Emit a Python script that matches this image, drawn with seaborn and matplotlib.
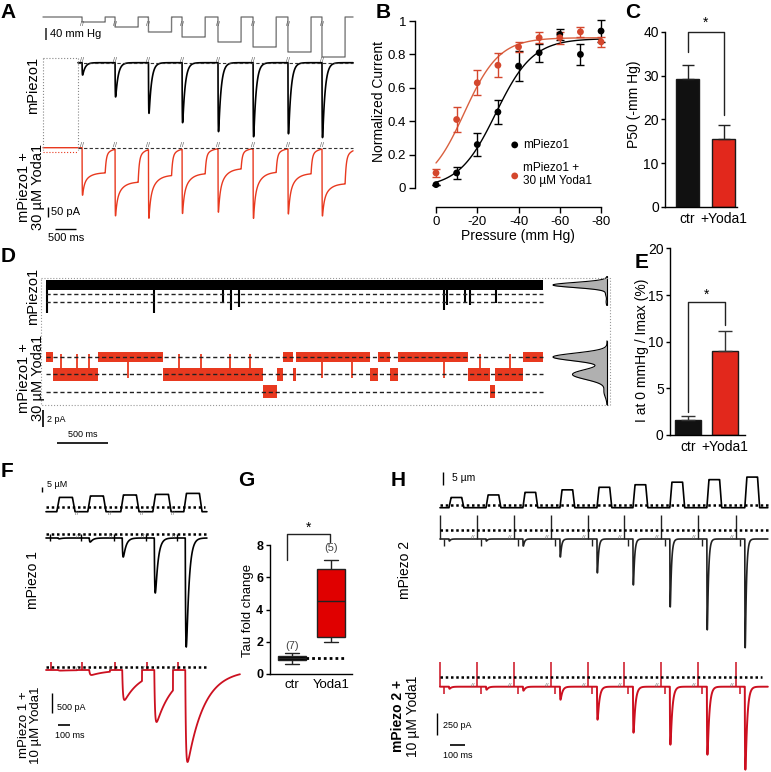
import numpy as np
import pandas as pd
import matplotlib
matplotlib.use("Agg")
import matplotlib.pyplot as plt
from matplotlib.lines import Line2D
import seaborn as sns

sns.set_theme(style="ticks")
plt.rcParams['font.family'] = ['Liberation Sans', 'DejaVu Sans']
plt.rcParams['axes.linewidth'] = 1.0
plt.rcParams['xtick.major.width'] = 1.0
plt.rcParams['ytick.major.width'] = 1.0
plt.rcParams['xtick.major.size'] = 4
plt.rcParams['ytick.major.size'] = 4
plt.rcParams['axes.edgecolor'] = 'black'
plt.rcParams['xtick.color'] = 'black'
plt.rcParams['ytick.color'] = 'black'
plt.rcParams['text.color'] = 'black'
plt.rcParams['path.simplify'] = False

# ======================= DATA =======================
# Panel A : pressure-clamp sweeps
a_step_onset_ms = [930, 1715, 2510, 3310, 4165, 5000, 5830, 6640]
a_step_dur_ms = 550
a_trace_end_ms = 7380
a_pressure_mmHg = [-10, -20, -30, -40, -50, -60, -70, -80]
a_ctr_peak_pA = [58, 161, 238, 282, 324, 348, 334, 352]
a_yoda_peak_pA = [254, 357, 376, 352, 352, 385, 357, 357]
a_yoda_plateau_pA = [117, 160, 128, 120, 97, 113, 120, 168]

# Panel B : pressure-response
b_pressure = [0, -10, -20, -30, -40, -50, -60, -70, -80]
b_ctr_mean = [0.02, 0.09, 0.26, 0.455, 0.73, 0.81, 0.92, 0.80, 0.94]
b_ctr_sem = [0.0, 0.038, 0.068, 0.07, 0.09, 0.055, 0.033, 0.062, 0.064]
b_yoda_mean = [0.09, 0.41, 0.63, 0.735, 0.845, 0.90, 0.90, 0.935, 0.875]
b_yoda_sem = [0.023, 0.075, 0.075, 0.072, 0.03, 0.032, 0.035, 0.03, 0.032]
b_ctr_fit = dict(imax=0.895, p50=29.0, k=9.0)
b_yoda_fit = dict(imax=0.90, p50=13.7, k=8.5)

# Panel C : P50
c_groups = ['ctr', '+Yoda1']
c_p50_mean = [29.3, 15.6]
c_p50_sem = [3.2, 3.2]
c_sig_bracket = [35.5, 40.0, 40.0, 21.0]

# Panel D : single channels (dwell list of red trace)
d_red_dwell_ms = [69, 441, 637, 980, 137, 59, 98, 29, 725, 79, 117, 79, 686, 215, 49, 275, 196]
d_red_state = [0, 1, 0, 1, 2, 1, 0, 1, 0, 1, 0, 1, 0, 1, 2, 1, 0]
d_red_levels_pA = [0.0, -2.05, -4.1]
d_red_flicker_ms = [150, 300, 420, 1300, 1520, 1800, 2000, 800, 2700, 3000, 3900, 4250, 4550]
d_red_flicker_to = [0, 0, 0, 0, 0, 0, 0, 1, 1, 1, 1, 0, 0]
d_black_levels_pA = [0.0, -1.05, -2.0]
d_black_end_ms = 4871
d_black_spike_ms = [10, 1058, 1735, 1813, 1891, 3900, 3930, 4106, 4155, 4410]
d_black_spike_pA = [-3.3, -3.3, -2.0, -2.9, -2.6, -2.9, -2.35, -2.0, -2.35, -2.1]

# Panel E : I at 0 mmHg
e_groups = ['ctr', '+Yoda1']
e_i0_mean = [1.6, 9.0]
e_i0_sem = [0.4, 2.2]
e_sig_bracket = [2.5, 14.3, 14.3, 11.8]

# Panel F : concentration steps
f_seg_start_ms = [0, 258, 533, 800, 1058]
f_black_end_ms = 1341
f_red_end_ms = 1616
f_step_delay_ms = 90
f_step_dur_ms = 130
f_stim_height = [14.3, 15.7, 16.7, 17.3, 18.3]
f_ctr_peak_pA = [20, 100, 475, 1375, 2725]
f_yoda_peak_pA = [15, 125, 750, 1300, 2300]

# Panel G : tau fold change
g_ctr = [0.6, 0.8, 0.95, 1.0, 1.05, 1.15, 1.3]
g_yoda = [2.0, 2.3, 4.55, 6.55, 7.1]

# Panel H : mPiezo2 indentation
h_seg_start_ms = [0, 247, 493, 740, 987, 1227, 1473, 1720, 1973]
h_end_ms = 2187
h_step_delay_ms = 60
h_step_dur_ms = 85
h_stim_um = [4, 5, 6, 7, 8, 9, 10, 11, 12]
h_ctr_peak_pA = [23, 23, 80, 205, 386, 523, 773, 1034, 1238]
h_yoda_peak_pA = [23, 34, 45, 148, 375, 523, 659, 773, 943]

RED_A = '#e8391f'
RED_B = '#d4472d'
RED_BFIT = '#d9603f'
RED_BAR = '#e2281c'
RED_F = '#cc1020'
RED_G = '#e00000'

# ======================= HELPERS =======================
W, H = 771, 772
fig = plt.figure(figsize=(W / 100, H / 100), dpi=100)
fig.patch.set_facecolor('white')


def px_axes(l, t, r, b):
    ax = fig.add_axes([l / W, 1 - b / H, (r - l) / W, (b - t) / H])
    ax.patch.set_alpha(0)
    return ax


def set_map(ax, box, x0px, x_per_px, y0px, y_per_px):
    l, t, r, b = box
    ax.set_xlim((l - x0px) * x_per_px, (r - x0px) * x_per_px)
    ax.set_ylim((y0px - b) * y_per_px, (y0px - t) * y_per_px)
    ax.axis('off')


def ftext(x, y, s, **kw):
    fig.text(x / W, 1 - y / H, s, **kw)


def fline(xs, ys, **kw):
    fig.add_artist(Line2D([x / W for x in xs], [1 - y / H for y in ys],
                          transform=fig.transFigure, **kw))


def trace(ax, t, y, color, lw=1.0):
    sns.lineplot(x=t, y=y, ax=ax, color=color, lw=lw, estimator=None,
                 sort=False, legend=False)


def kern(dt, tr, td):
    d = np.clip(dt, 0, None)
    tp = tr * np.log((tr + td) / tr)
    kmax = (1 - np.exp(-tp / tr)) * np.exp(-tp / td)
    return np.where(dt >= 0, (1 - np.exp(-d / tr)) * np.exp(-d / td) / kmax, 0.0)


def ramp(t, on, off, rr):
    return np.clip((t - on) / rr, 0, 1) - np.clip((t - off) / rr, 0, 1)


def letter(x, y, s):
    ftext(x, y, s, fontsize=15, fontweight='bold', ha='center', va='center')


DOT = (0, (1, 1.1))

# ======================= PANEL A =======================
A_X0, A_MS = 43, 23.8
a_box = (36, 5, 362, 245)
ax_p, ax_k, ax_r = px_axes(*a_box), px_axes(*a_box), px_axes(*a_box)
t = np.arange(0, a_trace_end_ms, 1.0)
press = np.zeros_like(t)
ik = np.zeros_like(t)
ir = np.zeros_like(t)
dur = a_step_dur_ms
for on, p, ak, ay, py in zip(a_step_onset_ms, a_pressure_mmHg, a_ctr_peak_pA,
                             a_yoda_peak_pA, a_yoda_plateau_pA):
    dt = t - on
    inside = (dt >= 0) & (dt < dur)
    after = dt >= dur
    press[inside] = p
    ik -= ak * kern(dt, 5, 60)
    d = np.clip(dt, 0, None)
    shape_in = py + (ay - py) * (0.55 * np.exp(-d / 35) + 0.45 * np.exp(-d / 150))
    i_end = py + (ay - py) * (0.55 * np.exp(-dur / 35) + 0.45 * np.exp(-dur / 150))
    da = np.clip(dt - dur, 0, None)
    shape_after = i_end * (0.7 * np.exp(-da / 25) + 0.3 * np.exp(-da / 150))
    ir -= np.where(inside, (1 - np.exp(-d / 3)) * shape_in, 0) + np.where(after, shape_after, 0)

trace(ax_p, t, press, '#7a7a7a', 1.0)
kmask = t >= 833
trace(ax_k, t[kmask], ik[kmask], 'black', 1.2)
trace(ax_r, t, ir, RED_A, 1.0)
ax_k.hlines(0, 833, a_trace_end_ms, colors='#333333', linestyles=(0, (3, 2)), lw=0.8)
ax_r.hlines(0, 833, a_trace_end_ms, colors='#333333', linestyles=(0, (3, 2)), lw=0.8)
for on in a_step_onset_ms:
    ax_p.text(on, -16, '//', fontsize=5, color='#555555', ha='center', va='center')
    ax_k.text(on, 8, '//', fontsize=5, color='#555555', ha='center', va='center')
    ax_r.text(on, 8, '//', fontsize=5, color='#555555', ha='center', va='center')
# scale bars
ax_p.vlines(71, -46, -22, colors='#333333', lw=1.2)
ax_p.text(167, -34, '40 mm Hg', fontsize=8, va='center', ha='left')
ax_r.vlines(119, -327, -277, colors='black', lw=1.0)
ax_r.text(190, -303, '50 pA', fontsize=8, va='center', ha='left')
ax_r.hlines(-382, 286, 786, colors='black', lw=1.0)
ax_r.text(547, -425, '500 ms', fontsize=8, va='center', ha='center')
set_map(ax_p, a_box, A_X0, A_MS, 17, 2.0)
set_map(ax_k, a_box, A_X0, A_MS, 62.7, 4.7)
set_map(ax_r, a_box, A_X0, A_MS, 147.7, 4.7)
# dotted inset box
fline([43, 78], [58, 58], color='#888888', lw=0.8, ls=':')
fline([78, 78], [58, 150], color='#888888', lw=0.8, ls=':')
fline([43, 43], [58, 150], color='#888888', lw=0.8, ls=':')
fline([43, 78], [152, 152], color=RED_A, lw=0.8, ls=':')
ftext(33, 85, 'mPiezo1', rotation=90, ha='center', va='center', fontsize=10.5)
ftext(31, 187, 'mPiezo1 +\n30 µM Yoda1', rotation=90, ha='center', va='center',
      multialignment='center', fontsize=10.5, linespacing=1.0)
letter(8, 13, 'A')

# ======================= PANEL B =======================
axB = px_axes(415, 12, 612, 207)
p_fine = np.linspace(0, -80, 161)
fit_ctr = b_ctr_fit['imax'] / (1 + np.exp((b_ctr_fit['p50'] + p_fine) / b_ctr_fit['k']))
fit_yoda = b_yoda_fit['imax'] / (1 + np.exp((b_yoda_fit['p50'] + p_fine) / b_yoda_fit['k']))
sns.lineplot(x=p_fine, y=fit_ctr, color='black', lw=1.0, ax=axB, legend=False)
sns.lineplot(x=p_fine, y=fit_yoda, color=RED_BFIT, lw=1.0, ax=axB, legend=False)
axB.errorbar(b_pressure, b_ctr_mean, yerr=b_ctr_sem, fmt='none', ecolor='black',
             elinewidth=1, capsize=3, capthick=1)
axB.errorbar(b_pressure, b_yoda_mean, yerr=b_yoda_sem, fmt='none', ecolor=RED_B,
             elinewidth=1, capsize=3, capthick=1)
sns.scatterplot(x=b_pressure, y=b_ctr_mean, color='black', s=24, edgecolor='none',
                ax=axB, label='mPiezo1', zorder=4)
sns.scatterplot(x=b_pressure, y=b_yoda_mean, color=RED_B, s=24, edgecolor='none',
                ax=axB, label='mPiezo1 +\n30 µM Yoda1', zorder=4)
axB.set_xlim(10.18, -85.3)
axB.set_ylim(-0.114, 1.054)
axB.set_xticks([0, -20, -40, -60, -80])
axB.set_xticklabels(['0', '-20', '-40', '-60', '-80'], fontsize=9.5)
axB.set_yticks([0, 0.2, 0.4, 0.6, 0.8, 1.0])
axB.set_yticklabels(['0', '0.2', '0.4', '0.6', '0.8', '1'], fontsize=9.5)
axB.tick_params(axis='x', pad=2.5)
axB.tick_params(axis='y', pad=2.5)
for s in ['top', 'right']:
    axB.spines[s].set_visible(False)
axB.spines['left'].set_bounds(0, 1)
axB.spines['bottom'].set_bounds(-80, 0)
axB.set_xlabel('')
axB.set_ylabel('')
axB.legend(frameon=False, fontsize=8.5, loc='upper left',
           bbox_to_anchor=((510 - 415) / 197, 1 - (139 - 12) / 195),
           handletextpad=0.3, labelspacing=0.9, borderpad=0, borderaxespad=0,
           handlelength=0.8)
ftext(379, 102, 'Normalized Current', rotation=90, ha='center', va='center', fontsize=10)
ftext(518, 236, 'Pressure (mm Hg)', ha='center', va='center', fontsize=10)
letter(383, 13, 'B')

# ======================= PANEL C =======================
axC = px_axes(665, 20, 737, 207)
sns.barplot(x=c_groups, y=c_p50_mean, hue=c_groups, palette=['#111111', RED_BAR],
            width=0.64, edgecolor='#1a1a1a', linewidth=1, legend=False,
            errorbar=None, saturation=1, ax=axC)
axC.errorbar([0, 1], c_p50_mean, yerr=[[0, 0], c_p50_sem], fmt='none',
             ecolor='#222222', elinewidth=1, capsize=4.5, capthick=1)
axC.plot([0, 0, 1, 1], c_sig_bracket, color='#222222', lw=1)
axC.text(0.5, 42.0, '*', ha='center', va='center', fontsize=10)
axC.set_ylim(0, (207 - 20) / 4.38)
axC.set_xlim(-0.625, 1.375)
axC.set_yticks([0, 10, 20, 30, 40])
axC.tick_params(labelsize=10)
axC.tick_params(axis='y', length=3, pad=1.5)
axC.tick_params(axis='x', length=0)
for s in ['top', 'right']:
    axC.spines[s].set_visible(False)
axC.spines['left'].set_bounds(0, 40)
axC.set_xlabel('')
axC.set_ylabel('')
ftext(634, 104, 'P50 (-mm Hg)', rotation=90, ha='center', va='center', fontsize=10)
letter(633, 13, 'C')

# ======================= PANEL D =======================
D_X0, D_MS, D_U = 46, 9.8, 0.1176
d_box = (38, 265, 560, 455)
axDk, axDr = px_axes(*d_box), px_axes(*d_box)
edges = np.concatenate([[0], np.cumsum(d_red_dwell_ms)])
lev = np.array(d_red_levels_pA)[d_red_state]
hw = np.where(np.array(d_red_state) == 0, 0.62, 0.78)
yy = np.append(lev, lev[-1])
hh = np.append(hw, hw[-1])
axDr.fill_between(edges, yy - hh, yy + hh, step='post', color=RED_A, lw=0)
for ft, to in zip(d_red_flicker_ms, d_red_flicker_to):
    k = np.searchsorted(edges, ft, side='right') - 1
    axDr.vlines(ft, lev[k], d_red_levels_pA[to] + (0.4 if to == 0 else -0.4),
                colors=RED_A, lw=1.3)
axDk.fill_between([0, d_black_end_ms], [-0.62, -0.62], [0.62, 0.62], color='black', lw=0)
axDk.vlines(d_black_spike_ms, 0, d_black_spike_pA, colors='black', lw=1.5)
for lv in d_black_levels_pA[1:]:
    axDk.hlines(lv, 0, d_black_end_ms, colors='#222222', linestyles=(0, (3, 2)), lw=1.0)
for lv in d_red_levels_pA:
    axDr.hlines(lv, 0, d_black_end_ms, colors='#222222', linestyles=(0, (3, 2)), lw=1.0, zorder=3)
axDr.vlines(-29, -8.2, -6.2, colors='black', lw=1.2)
axDr.text(10, -7.3, '2 pA', fontsize=6.5, va='center', ha='left')
axDr.hlines(-10.1, 108, 608, colors='black', lw=1.2)
axDr.text(358, -9.6, '500 ms', fontsize=6.5, va='bottom', ha='center')
set_map(axDk, d_box, D_X0, D_MS, 285, D_U)
set_map(axDr, d_box, D_X0, D_MS, 357, D_U)

# all-points histograms derived from dwell times
hist_box = (548, 265, 612, 455)
axHk, axHr = px_axes(*hist_box), px_axes(*hist_box)
dw = np.array(d_red_dwell_ms, float)
st = np.array(d_red_state)
w_red = [dw[st == s].sum() / dw.sum() for s in range(3)]
sig_red = [0.45, 0.6, 0.6]
yr = np.linspace(1.9, -5.6, 400)
dens_r = sum(w / s * np.exp(-0.5 * ((yr - L) / s) ** 2)
             for w, s, L in zip(w_red, sig_red, d_red_levels_pA))
dens_r = dens_r / dens_r.max()
w_blk = [0.96, 0.025, 0.015]
yk = np.linspace(1.0, -2.4, 300)
dens_k = sum(w / 0.3 * np.exp(-0.5 * ((yk - L) / 0.3) ** 2)
             for w, L in zip(w_blk, d_black_levels_pA))
dens_k = dens_k / dens_k.max()
for axh, yv, dv in [(axHk, yk, dens_k), (axHr, yr, dens_r)]:
    axh.fill_betweenx(yv, 0, dv, color='#b0b0b0', lw=0)
    axh.plot(dv, yv, color='black', lw=0.8)
    axh.plot([0, 0], [yv.min(), yv.max()], color='black', lw=0.8)
set_map(axHk, hist_box, 607, -1 / 54, 285, D_U)
set_map(axHr, hist_box, 607, -1 / 54, 357, D_U)
fline([41, 610, 610, 41, 41], [278, 278, 405, 405, 278], color='#999999', lw=0.8, ls=':')
ftext(33, 296, 'mPiezo1', rotation=90, ha='center', va='center', fontsize=10.5)
ftext(31, 378, 'mPiezo1 +\n30 µM Yoda1', rotation=90, ha='center', va='center',
      multialignment='center', fontsize=10.5, linespacing=1.0)
letter(8, 256, 'D')

# ======================= PANEL E =======================
axE = px_axes(670, 245, 745, 435)
sns.barplot(x=e_groups, y=e_i0_mean, hue=e_groups, palette=['#111111', RED_BAR],
            width=0.70, edgecolor='#1a1a1a', linewidth=1, legend=False,
            errorbar=None, saturation=1, ax=axE)
axE.errorbar([0, 1], e_i0_mean, yerr=[[0, 0], e_i0_sem], fmt='none',
             ecolor='#333333', elinewidth=1, capsize=5, capthick=1)
axE.plot([0, 0, 1, 1], e_sig_bracket, color='#222222', lw=1)
axE.text(0.5, 15.0, '*', ha='center', va='center', fontsize=10)
axE.set_ylim(0, (435 - 245) / 9.33)
axE.set_xlim(-0.486, 1.54)
axE.set_yticks([0, 5, 10, 15, 20])
axE.tick_params(labelsize=10)
axE.tick_params(axis='y', length=3, pad=1.5)
axE.tick_params(axis='x', length=0)
for s in ['top', 'right']:
    axE.spines[s].set_visible(False)
axE.spines['left'].set_bounds(0, 20)
axE.set_xlabel('')
axE.set_ylabel('')
ftext(642, 350, 'I at 0 mmHg / Imax (%)', rotation=90, ha='center', va='center', fontsize=10)
letter(642, 262, 'E')

# ======================= PANEL F =======================
F_X0, F_MS = 46, 8.33
f_box = (36, 470, 245, 770)
axFs, axFk, axFr = px_axes(*f_box), px_axes(*f_box), px_axes(*f_box)
f_ends_k = f_seg_start_ms[1:] + [f_black_end_ms]
f_ends_r = f_seg_start_ms[1:] + [f_red_end_ms]
ts, ss, tk, yk_, tr_, yr_ = [], [], [], [], [], []
for i, s in enumerate(f_seg_start_ms):
    on = s + f_step_delay_ms
    tt = np.arange(s, f_ends_k[i], 0.5)
    ts.append(tt)
    ss.append(f_stim_height[i] * ramp(tt, on, on + f_step_dur_ms, 22))
    tk.append(tt)
    yk_.append(-f_ctr_peak_pA[i] * kern(tt - (on + 12), 5, 22))
    tt2 = np.arange(s, f_ends_r[i], 0.5)
    tr_.append(tt2)
    yr_.append(-f_yoda_peak_pA[i] * kern(tt2 - (on + 12), 6, 140))
trace(axFs, np.concatenate(ts), np.concatenate(ss), 'black', 1.2)
trace(axFk, np.concatenate(tk), np.concatenate(yk_), 'black', 1.2)
trace(axFr, np.concatenate(tr_), np.concatenate(yr_), RED_F, 1.3)
for s in f_seg_start_ms:
    axFk.vlines(s + 30, -75, 100, colors='black', lw=1.0)
    axFr.vlines(s + 40, 0, 200, colors=RED_F, lw=1.2)
for s in f_seg_start_ms[1:]:
    axFs.text(s, -2, '//', fontsize=4.5, color='#666666', ha='center', va='center')
    axFk.text(s + 10, 30, '//', fontsize=4.5, color='#666666', ha='center', va='center')
    axFr.text(s + 10, 30, '//', fontsize=4.5, color='#666666', ha='center', va='center')
axFs.hlines(5, 0, 1325, colors='black', linestyles=DOT, lw=1.8)
axFk.hlines(100, 0, 1341, colors='black', linestyles=DOT, lw=1.8)
axFr.hlines(75, 0, 1341, colors='black', linestyles=DOT, lw=1.8)
axFs.vlines(-33, 20, 25, colors='black', lw=1.0)
axFs.text(8, 27, '5 µM', fontsize=6.5, ha='left', va='center')
axFr.vlines(50, -1075, -575, colors='black', lw=1.0)
axFr.text(92, -925, '500 pA', fontsize=6.5, ha='left', va='center')
axFr.hlines(-1375, 100, 200, colors='black', lw=1.2)
axFr.text(75, -1650, '100 ms', fontsize=6.5, ha='left', va='center')
set_map(axFs, f_box, F_X0, F_MS, 511.7, 1.0)
set_map(axFk, f_box, F_X0, F_MS, 538, 25)
set_map(axFr, f_box, F_X0, F_MS, 670, 25)
ftext(33, 580, 'mPiezo 1', rotation=90, ha='center', va='center', fontsize=10)
ftext(30, 725, 'mPiezo 1 +\n10 µM Yoda1', rotation=90, ha='center', va='center',
      multialignment='center', fontsize=9.5, linespacing=1.0)
letter(7, 472, 'F')

# ======================= PANEL G =======================
axG = px_axes(270, 520, 352, 674)
g_df = pd.DataFrame({'group': ['ctr'] * len(g_ctr) + ['Yoda1'] * len(g_yoda),
                     'tau': g_ctr + g_yoda})
sns.boxplot(data=g_df, x='group', y='tau', hue='group', palette=['black', RED_G],
            width=0.72, linecolor='#222222', linewidth=1, legend=False,
            showcaps=True, fliersize=0, saturation=1, ax=axG)
axG.hlines(1, 0.2, 1.36, colors='black', linestyles=DOT, lw=2)
axG.plot([-0.13, -0.13, 0.97, 0.97], [7.1, 8.7, 8.7, 8.2], color='#222222', lw=1)
axG.text(0.42, 9.1, '*', ha='center', va='center', fontsize=10)
axG.text(0, 1.75, '(7)', ha='center', va='center', fontsize=8, color='#444444')
axG.text(1, 7.85, '(5)', ha='center', va='center', fontsize=8, color='#444444')
axG.set_ylim(0, (674 - 520) / 16.1)
axG.set_xlim(-0.564, 1.54)
axG.set_yticks([0, 2, 4, 6, 8])
axG.set_yticklabels(['0', '2', '4', '6', '8'], fontweight='bold', fontsize=9)
axG.tick_params(axis='y', length=3, pad=2)
axG.tick_params(axis='x', labelsize=9.5, length=0)
for s in ['top', 'right']:
    axG.spines[s].set_visible(False)
axG.spines['left'].set_bounds(0, 8)
axG.set_xlabel('')
axG.set_ylabel('')
ftext(248, 610, 'Tau fold change', rotation=90, ha='center', va='center', fontsize=9.5)
letter(246, 480, 'G')

# ======================= PANEL H =======================
H_X0, H_MS = 440, 6.67
h_box = (432, 465, 771, 772)
axHs, axHbk, axHbr = px_axes(*h_box), px_axes(*h_box), px_axes(*h_box)
h_ends = h_seg_start_ms[1:] + [h_end_ms]
ts, ss, yk2, yr2 = [], [], [], []
for i, s in enumerate(h_seg_start_ms):
    on = s + h_step_delay_ms
    tt = np.arange(s, h_ends[i], 0.5)
    ts.append(tt)
    ss.append(h_stim_um[i] * ramp(tt, on, on + h_step_dur_ms, 14))
    yk2.append(-h_ctr_peak_pA[i] * kern(tt - on, 1.5, 8))
    yr2.append(-h_yoda_peak_pA[i] * kern(tt - on, 2.0, 12))
T = np.concatenate(ts)
trace(axHs, T, np.concatenate(ss), 'black', 1.2)
trace(axHbk, T, np.concatenate(yk2), '#222222', 1.2)
trace(axHbr, T, np.concatenate(yr2), RED_F, 1.4)
for s in h_seg_start_ms:
    axHbk.vlines(s + 2, 0, 273, colors='#222222', lw=1.0)
    axHbk.vlines(s + 27, 0, -80, colors='#222222', lw=1.0)
    axHbr.vlines(s + 2, 0, 284, colors=RED_F, lw=1.1)
    axHbr.vlines(s + 27, 0, -80, colors=RED_F, lw=1.1)
for s in h_seg_start_ms[1:]:
    axHbk.text(s - 27, 15, '//', fontsize=4.5, color='#666666', ha='center', va='center')
    axHbr.text(s - 27, 15, '//', fontsize=4.5, color='#666666', ha='center', va='center')
axHs.hlines(1.06, 0, h_end_ms, colors='black', linestyles=DOT, lw=1.8)
axHbk.hlines(102, 0, h_end_ms, colors='black', linestyles=DOT, lw=1.8)
axHbr.hlines(114, 0, 2150, colors='black', linestyles=DOT, lw=1.8)
axHs.vlines(20, 9, 14, colors='black', lw=1.0)
axHs.text(80, 11.5, '5 µm', fontsize=7.5, ha='left', va='center')
axHbr.vlines(-20, -550, -300, colors='black', lw=1.0)
axHbr.text(20, -437, '250 pA', fontsize=6.5, ha='left', va='center')
axHbr.hlines(-664, 67, 167, colors='black', lw=1.2)
axHbr.text(20, -778, '100 ms', fontsize=6.5, ha='left', va='center')
set_map(axHs, h_box, H_X0, H_MS, 507.7, 0.392)
set_map(axHbk, h_box, H_X0, H_MS, 539, 11.36)
set_map(axHbr, h_box, H_X0, H_MS, 686.7, 11.36)
ftext(405, 570, 'mPiezo 2', rotation=90, ha='center', va='center', fontsize=10)
ftext(398, 716, 'mPiezo 2 +', rotation=90, ha='center', va='center', fontsize=10,
      fontweight='bold')
ftext(413, 716, '10 µM Yoda1', rotation=90, ha='center', va='center', fontsize=10)
letter(398, 480, 'H')

fig.savefig('out.png', dpi=100, facecolor='white')
